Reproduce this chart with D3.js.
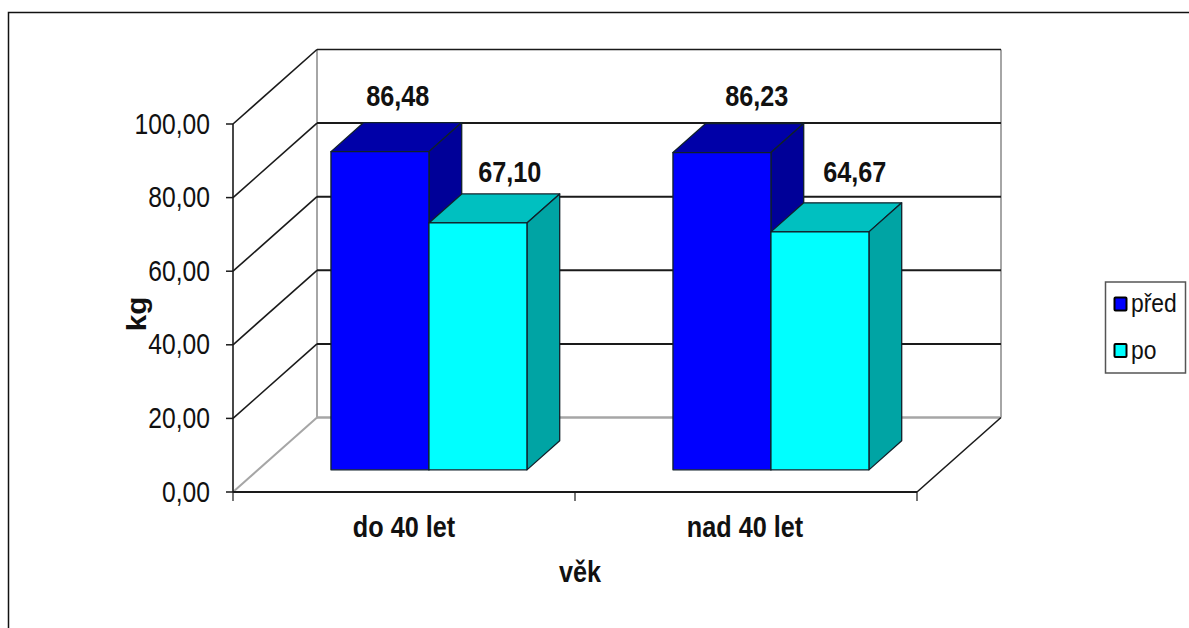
<!DOCTYPE html>
<html>
<head>
<meta charset="utf-8">
<script src="https://cdn.jsdelivr.net/npm/d3@7/dist/d3.min.js"></script>
<style>
html,body{margin:0;padding:0;background:#fff;}
svg{display:block;}
text{font-family:"Liberation Sans",Arial,sans-serif;fill:#111;}
</style>
</head>
<body>
<svg id="chart" width="1189" height="628"></svg>
<script>
// Mean weight before and after, by age group
const categories = ["do 40 let", "nad 40 let"];
const seriesNames = ["před", "po"];
const predValues = [86.48, 86.23];
const poValues = [67.10, 64.67];
const valueLabels = [["86,48", "86,23"], ["67,10", "64,67"]];
const yTicks = [0, 20, 40, 60, 80, 100];
const yTickLabels = ["0,00", "20,00", "40,00", "60,00", "80,00", "100,00"];
const frontColors = ["#0000ff", "#00ffff"];
const topColors = ["#0000a8", "#00c0c0"];
const sideColors = ["#000098", "#00a4a4"];

const svg = d3.select("#chart");

// Plot box on the front plane of the 3D frame
const y = d3.scaleLinear().domain([0, 100]).range([492, 124]);
const xBand = d3.scaleBand().domain(categories).range([233, 917]);
const xSeries = d3.scaleBand().domain(seriesNames)
  .range([0, xBand.bandwidth()]).paddingOuter(0.745).paddingInner(0);

// Depth projection: d runs from 0 (front plane) to 1 (back wall)
const depthX = 84, depthY = -74.5;
const project = (px, py, d) => [px + d * depthX, py + d * depthY];
const pathOf = pts => "M" + pts.map(p => p.join(",")).join("L") + "Z";
const lineOf = (a, b, stroke, w) => svg.append("line")
  .attr("x1", a[0]).attr("y1", a[1]).attr("x2", b[0]).attr("y2", b[1])
  .attr("stroke", stroke).attr("stroke-width", w);

// Squeezed text, as the narrow lettering of the chart requires
function label(px, py, str, opts) {
  const o = Object.assign({size: 29, sx: 0.87, bold: false, anchor: "middle", rotate: 0}, opts);
  return svg.append("text")
    .attr("transform", `translate(${px},${py}) rotate(${o.rotate}) scale(${o.sx},1)`)
    .attr("text-anchor", o.anchor)
    .attr("font-size", o.size)
    .attr("font-weight", o.bold ? "bold" : "normal")
    .text(str);
}

// Outer chart border (open at the bottom and right edge of the page)
svg.append("path").attr("d", "M8.5,628V12.5H1189")
  .attr("fill", "none").attr("stroke", "#111").attr("stroke-width", 1.5);

const x0 = xBand.range()[0], x1 = xBand.range()[1];
const gridGray = "#a6a6a6", dark = "#1a1a1a";

// Back wall and side wall frame
const backTL = project(x0, y(100), 1), backBL = project(x0, y(0), 1);
const backTR = project(x1, y(100), 1), backBR = project(x1, y(0), 1);
lineOf(backTL, backBL, gridGray, 2);
lineOf(backTR, backBR, gridGray, 2);
lineOf(backBL, backBR, gridGray, 2.5);
lineOf(project(x0, y(0), 0), backBL, gridGray, 2);

// Gridlines along the side wall and the back wall
yTicks.forEach(t => {
  const a = project(x0, y(t), 0), b = project(x0, y(t), 1), c = project(x1, y(t), 1);
  if (t > 0) {
    lineOf(a, b, dark, 1.6);
    lineOf(b, c, dark, t === 100 ? 1.6 : 2);
  }
});

// Floor edges and axis lines
lineOf(project(x0, y(100), 0), project(x0, y(0), 0), dark, 1.6);
lineOf(project(x0, y(0), 0), project(x1, y(0), 0), dark, 2);
lineOf(project(x1, y(0), 0), project(x1, y(0), 1), dark, 1.6);

// Axis tick marks and value labels
yTicks.forEach((t, i) => {
  lineOf([x0 - 7, y(t)], [x0, y(t)], dark, 1.5);
  label(x0 - 23, y(t) + 9.5, yTickLabels[i], {anchor: "end", sx: 0.85});
});
[x0, x0 + xBand.bandwidth(), x1].forEach(px => lineOf([px, y(0)], [px, y(0) + 9], dark, 1.2));

// Bars: front face sits 0.297 of the way in, and each bar is 0.39 deep
const barD0 = 0.297, barDepth = 0.39;
const series = [predValues, poValues];
const edge = "#10202a";
// Value labels are placed by hand relative to the top face's rear edge centre
const labelNudgeX = [[-15, 2], [-1, 2]];
const labelNudgeY = [[-17, -17], [-12, -21]];
categories.forEach((cat, ci) => {
  seriesNames.forEach((name, si) => {
    const left = xBand(cat) + xSeries(name), right = left + xSeries.bandwidth();
    const v = series[si][ci];
    const bot = y(0), top = y(v);
    const g = svg.append("g").attr("stroke", edge).attr("stroke-width", 1.3).attr("stroke-linejoin", "round");
    g.append("path").attr("fill", topColors[si]).attr("d", pathOf([
      project(left, top, barD0), project(right, top, barD0),
      project(right, top, barD0 + barDepth), project(left, top, barD0 + barDepth)]));
    g.append("path").attr("fill", sideColors[si]).attr("d", pathOf([
      project(right, top, barD0), project(right, bot, barD0),
      project(right, bot, barD0 + barDepth), project(right, top, barD0 + barDepth)]));
    g.append("path").attr("fill", frontColors[si]).attr("d", pathOf([
      project(left, top, barD0), project(right, top, barD0),
      project(right, bot, barD0), project(left, bot, barD0)]));
    const c = project((left + right) / 2, top, barD0 + barDepth);
    label(c[0] + labelNudgeX[si][ci], c[1] + labelNudgeY[si][ci], valueLabels[si][ci], {bold: true});
  });
  // Category label
  label(xBand(cat) + xBand.bandwidth() / 2 + [0, -1][ci], 537, cat, {bold: true});
});

// Axis titles
label(580, 582, "věk", {bold: true});
label(146, 314, "kg", {bold: true, rotate: -90, sx: 1.1, size: 27});

// Legend
svg.append("rect").attr("x", 1105.5).attr("y", 282).attr("width", 80).attr("height", 91)
  .attr("fill", "#fff").attr("stroke", "#555").attr("stroke-width", 1.5);
seriesNames.forEach((name, i) => {
  const cy = 304 + i * 46.5;
  svg.append("rect").attr("x", 1114.5).attr("y", cy - 6.5).attr("width", 12).attr("height", 13)
    .attr("rx", 1).attr("fill", frontColors[i]).attr("stroke", "#000").attr("stroke-width", 2);
  label(1131, cy + 8, name, {anchor: "start", size: 26, sx: 0.88});
});
</script>
</body>
</html>
